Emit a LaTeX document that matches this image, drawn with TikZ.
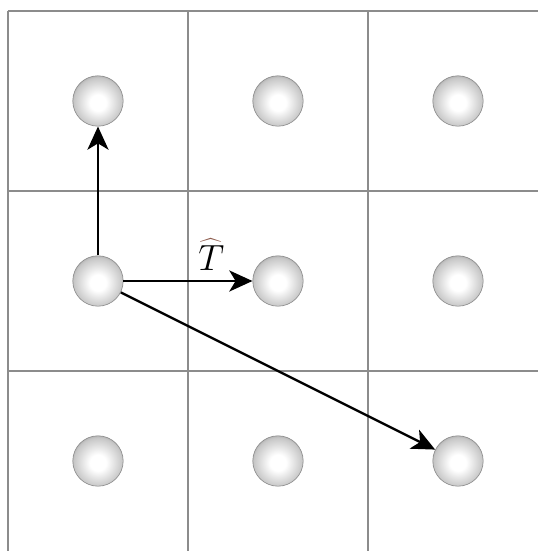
\documentclass[tikz,border=0pt]{standalone}
\usetikzlibrary{arrows.meta}
\definecolor{hatbrown}{RGB}{140,90,75}
\pgfdeclareradialshading{sphere}{\pgfpoint{0bp}{-2bp}}{color(0bp)=(white); color(8bp)=(white); color(24bp)=(black!22); color(33bp)=(black!52); color(36bp)=(black!55); color(50bp)=(black!55)}
\tikzset{
  ball/.style={circle, minimum size=0.84cm, inner sep=0pt, draw=black!45,
    line width=0.3pt, shading=sphere},
  gridline/.style={black!45, line width=0.6pt},
  vec/.style={-{Stealth[length=11pt,width=10pt,inset=3pt]}, line width=1.1pt},
}
\begin{document}
\begin{tikzpicture}[x=1cm,y=1cm, font=\LARGE]
  \useasboundingbox (-0.133,0.183) rectangle (8.833,-9);
  %% lattice cells
  \foreach \y in {0,3,6} \draw[gridline] (0,-\y) -- (8.833,-\y);
  \foreach \x in {0,3,6} \draw[gridline] (\x,0) -- (\x,-9);
  %% lattice sites
  \foreach \r in {1,2,3} {
    \foreach \c in {1,2,3} {
      \node[ball] (s\r\c) at (3*\c-1.5,-3*\r+1.5) {}; } }
  %% translation vectors
  \draw[vec] (s21) -- (s11);
  \draw[vec] (s21) -- node[above, pos=0.68, yshift=1pt]
    {\rlap{$\color{hatbrown}\widehat{\phantom{T}}$}$T$} (s22);
  \draw[vec] (s21) -- (s33);
\end{tikzpicture}
\end{document}
